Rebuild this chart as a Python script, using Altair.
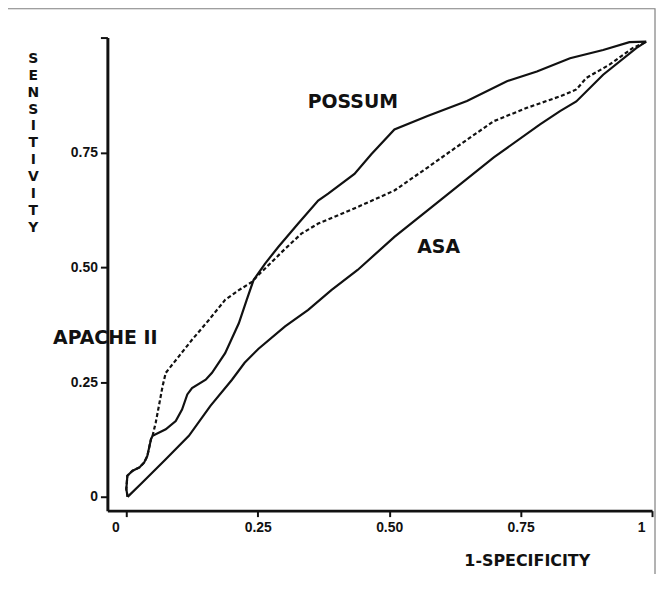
import altair as alt
import pandas as pd

# ---- data ----
possum_x = [0.0025, 0.0, 0.002, 0.012, 0.025, 0.034, 0.04, 0.047, 0.05, 0.075, 0.094, 0.106,
            0.116, 0.125, 0.151, 0.163, 0.188, 0.214, 0.229, 0.242, 0.264, 0.289, 0.327, 0.365,
            0.384, 0.434, 0.466, 0.51, 0.573, 0.648, 0.724, 0.781, 0.844, 0.907, 0.957, 0.989]
possum_y = [0.0, 0.017, 0.046, 0.057, 0.064, 0.075, 0.089, 0.126, 0.133, 0.147, 0.165, 0.19,
            0.223, 0.237, 0.255, 0.27, 0.313, 0.378, 0.429, 0.472, 0.508, 0.544, 0.595, 0.645,
            0.66, 0.703, 0.746, 0.8, 0.829, 0.862, 0.905, 0.926, 0.955, 0.973, 0.99, 0.991]

apache_x = [0.0025, 0.0, 0.002, 0.012, 0.025, 0.034, 0.04, 0.047, 0.05, 0.056, 0.062, 0.069,
            0.075, 0.1, 0.125, 0.157, 0.188, 0.214, 0.239, 0.251, 0.27, 0.302, 0.333, 0.365,
            0.403, 0.44, 0.51, 0.573, 0.636, 0.699, 0.762, 0.825, 0.856, 0.875, 0.919, 0.963, 0.989]
apache_y = [0.0, 0.017, 0.046, 0.057, 0.064, 0.075, 0.089, 0.126, 0.133, 0.162, 0.198, 0.241,
            0.27, 0.306, 0.342, 0.385, 0.429, 0.45, 0.468, 0.483, 0.504, 0.54, 0.573, 0.595,
            0.613, 0.631, 0.667, 0.717, 0.768, 0.818, 0.847, 0.872, 0.887, 0.912, 0.941, 0.977, 0.991]

asa_x = [0.0025, 0.031, 0.075, 0.119, 0.16, 0.201, 0.225, 0.251, 0.302, 0.346, 0.39, 0.44,
         0.51, 0.604, 0.699, 0.787, 0.825, 0.856, 0.907, 0.97, 0.989]
asa_y = [0.0, 0.032, 0.082, 0.133, 0.198, 0.255, 0.292, 0.322, 0.371, 0.407, 0.45, 0.494,
         0.566, 0.652, 0.739, 0.811, 0.84, 0.861, 0.919, 0.977, 0.991]

x_ticks = [0, 0.25, 0.5, 0.75, 1]
y_ticks = [0, 0.25, 0.5, 0.75, 1]

label_text = ["POSSUM", "ASA", "APACHE II"]
label_x = [0.431, 0.594, -0.04]
label_y = [0.859, 0.543, 0.346]

# ---- tables ----
rows = []
for name, xs, ys in [("POSSUM", possum_x, possum_y), ("ASA", asa_x, asa_y),
                     ("APACHE II", apache_x, apache_y)]:
    for i, (a, b) in enumerate(zip(xs, ys)):
        rows.append({"series": name, "order": i, "x": a, "y": b})
curves = pd.DataFrame(rows)
labels = pd.DataFrame({"text": label_text, "x": label_x, "y": label_y})

xscale = alt.Scale(domain=[-0.036, 1.0], nice=False, zero=False)
yscale = alt.Scale(domain=[-0.03, 1.0], nice=False, zero=False)

TICK_FONT = "Liberation Sans, Arial, sans-serif"
TITLE_FONT = "DejaVu Sans, Verdana, sans-serif"

x_axis = alt.Axis(
    values=x_ticks,
    labelExpr="datum.value == 0 ? '0' : datum.value == 1 ? '1' : format(datum.value, '.2f')",
    grid=False, domainColor="#111", domainWidth=2.6, tickColor="#111", tickWidth=2,
    tickSize=6, labelFont=TICK_FONT, labelFontWeight="bold", labelFontSize=14,
    labelColor="#111", labelPadding=4,
    labelOffset={"condition": {"test": "datum.value == 0 || datum.value == 1", "value": -11}, "value": 0},
    labelFlush=False, labelOverlap=False,
    title="1-SPECIFICITY", titleFont=TITLE_FONT, titleFontWeight="bold", titleFontSize=16,
    titleColor="#111", titleX=422, titleY=50, titleAlign="center", titleBaseline="middle",
)
y_axis = alt.Axis(
    values=y_ticks,
    labelExpr="datum.value == 1 ? '' : datum.value == 0 ? '0' : format(datum.value, '.2f')",
    grid=False, domainColor="#111", domainWidth=3, tickColor="#111", tickWidth=2,
    tickSize=7, labelFont=TICK_FONT, labelFontWeight="bold", labelFontSize=14,
    labelColor="#111", labelPadding=3, labelFlush=False, labelOverlap=False,
    title=list("SENSITIVITY"), titleAngle=0, titleFont=TITLE_FONT, titleFontWeight="bold",
    titleFontSize=14, titleLineHeight=17, titleColor="#111", titleX=-75, titleY=14,
    titleAlign="center", titleBaseline="top",
)

base = alt.Chart(curves)

solid = base.transform_filter(alt.datum.series != "APACHE II").mark_line(
    color="#111", strokeWidth=2.2
).encode(
    x=alt.X("x:Q", scale=xscale, axis=x_axis),
    y=alt.Y("y:Q", scale=yscale, axis=y_axis),
    detail="series:N",
    order="order:Q",
)

dashed = base.transform_filter(alt.datum.series == "APACHE II").mark_line(
    color="#111", strokeWidth=2.2, strokeDash=[4, 2.5]
).encode(
    x=alt.X("x:Q", scale=xscale),
    y=alt.Y("y:Q", scale=yscale),
    order="order:Q",
)

text = alt.Chart(labels).mark_text(
    font=TITLE_FONT, fontWeight="bold", fontSize=19, color="#111",
    align="center", baseline="middle"
).encode(
    x=alt.X("x:Q", scale=xscale),
    y=alt.Y("y:Q", scale=yscale),
    text="text:N",
)

frame = alt.Chart(labels).mark_rect(
    fill="transparent", stroke="#808080", strokeWidth=1.2
).encode(
    x=alt.value(-101), x2=alt.value(551), y=alt.value(-29), y2=alt.value(560)
).transform_filter(alt.datum.text == "ASA")

chart = alt.layer(frame, solid, dashed, text).properties(
    width=548, height=476,
    padding={"left": 100, "top": 28, "right": 4, "bottom": 62},
    autosize=alt.AutoSizeParams(type="none"),
    background="white",
).configure_view(strokeWidth=0)

chart.save("out.html", embed_options={"renderer": "svg", "actions": False})
